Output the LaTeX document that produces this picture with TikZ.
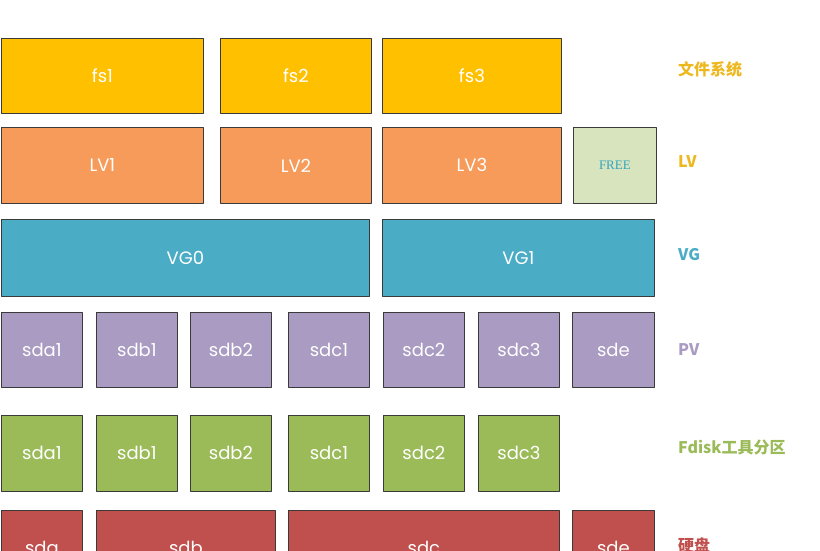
\documentclass[tikz,border=0pt]{standalone}
\usepackage{fontspec}
\setmainfont{Poppins}
\newfontfamily\cjk{Noto Sans CJK SC}
\newfontfamily\freefont{Liberation Serif}
\definecolor{fsyel}{HTML}{FFC000}
\definecolor{lvorg}{HTML}{F69B5A}
\definecolor{vgblu}{HTML}{4BACC6}
\definecolor{pvpur}{HTML}{A99BC1}
\definecolor{fdgrn}{HTML}{9BBB59}
\definecolor{hdred}{HTML}{C0504D}
\definecolor{freegrn}{HTML}{D7E4BD}
\definecolor{freetxt}{HTML}{31A5C0}
\definecolor{boxline}{HTML}{3A3A3A}
\definecolor{labyel}{HTML}{EDB81E}

\begin{document}
\begin{tikzpicture}[x=1pt,y=-1pt,line join=round,
  box/.style={draw=boxline,line width=0.8pt,anchor=north west,inner sep=0pt,
    text=white,font=\fontsize{18}{18}\selectfont},
  fsbox/.style={box,fill=fsyel,minimum height=75pt},
  lvbox/.style={box,fill=lvorg,minimum height=76pt},
  vgbox/.style={box,fill=vgblu,minimum height=77pt},
  pvbox/.style={box,fill=pvpur,minimum height=75pt},
  fdbox/.style={box,fill=fdgrn,minimum height=76pt},
  hdbox/.style={box,fill=hdred,minimum height=76pt},
  lab/.style={anchor=west,inner sep=0pt,font=\cjk\bfseries\fontsize{16}{16}\selectfont}]
\useasboundingbox (0,0) rectangle (820,550);
\clip (0,0) rectangle (820,550);
% file systems
\node[fsbox,minimum width=202pt] (fs1) at (1,38) {fs1};
\node[fsbox,minimum width=151pt] (fs2) at (220,38) {fs2};
\node[fsbox,minimum width=179pt] (fs3) at (382,38) {fs3};
% logical volumes
\node[lvbox,minimum width=202pt] (lv1) at (1,127) {LV1};
\node[lvbox,minimum width=151pt] (lv2) at (220,127) {LV2};
\node[lvbox,minimum width=179pt] (lv3) at (382,127) {LV3};
\node[lvbox,fill=freegrn,minimum width=83pt,text=freetxt,font=\freefont\fontsize{13}{13}\selectfont] (free) at (573,127) {FREE};
% volume groups
\node[vgbox,minimum width=368pt] (vg0) at (1,219) {VG0};
\node[vgbox,minimum width=272pt] (vg1) at (382,219) {VG1};
% physical volumes
\node[pvbox,minimum width=81pt] (pvsda1) at (1,312) {sda1};
\node[pvbox,minimum width=81pt] (pvsdb1) at (96,312) {sdb1};
\node[pvbox,minimum width=81pt] (pvsdb2) at (190,312) {sdb2};
\node[pvbox,minimum width=81pt] (pvsdc1) at (288,312) {sdc1};
\node[pvbox,minimum width=81pt] (pvsdc2) at (383,312) {sdc2};
\node[pvbox,minimum width=81pt] (pvsdc3) at (478,312) {sdc3};
\node[pvbox,minimum width=82pt] (pvsde) at (572,312) {sde};
% fdisk partitions
\node[fdbox,minimum width=81pt] (fdsda1) at (1,415) {sda1};
\node[fdbox,minimum width=81pt] (fdsdb1) at (96,415) {sdb1};
\node[fdbox,minimum width=81pt] (fdsdb2) at (190,415) {sdb2};
\node[fdbox,minimum width=81pt] (fdsdc1) at (288,415) {sdc1};
\node[fdbox,minimum width=81pt] (fdsdc2) at (383,415) {sdc2};
\node[fdbox,minimum width=81pt] (fdsdc3) at (478,415) {sdc3};
% disks
\node[hdbox,minimum width=81pt] (sda) at (1,510) {sda};
\node[hdbox,minimum width=179pt] (sdb) at (96,510) {sdb};
\node[hdbox,minimum width=271pt] (sdc) at (288,510) {sdc};
\node[hdbox,minimum width=82pt] (sde) at (572,510) {sde};
% layer names
\node[lab,text=labyel] (labfs) at (678,69) {文件系统};
\node[lab,text=labyel] (lablv) at (678,162) {LV};
\node[lab,text=vgblu] (labvg) at (678,255) {VG};
\node[lab,text=pvpur] (labpv) at (678,350) {PV};
\node[lab,text=fdgrn] (labfd) at (678,447) {Fdisk工具分区};
\node[lab,text=hdred] (labhd) at (678,545) {硬盘};
\end{tikzpicture}
\end{document}
